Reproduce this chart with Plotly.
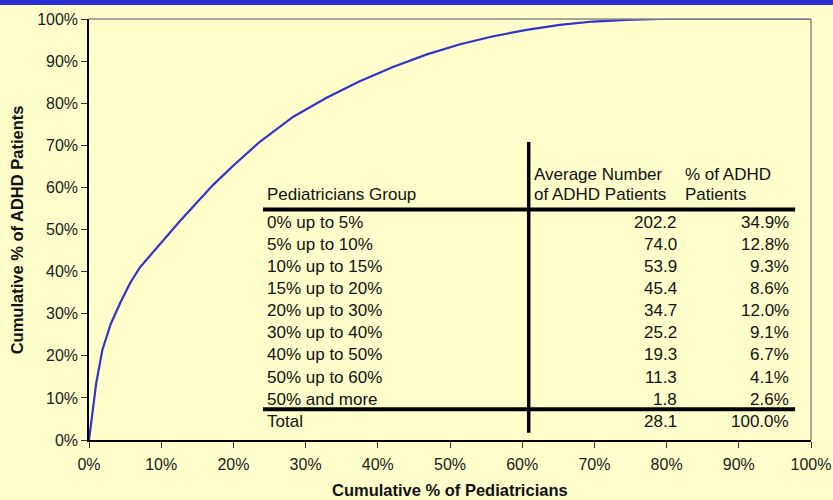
import plotly.graph_objects as go

# Lorenz-style curve (cumulative % of pediatricians vs. cumulative % of patients)
cum_pediatricians = [0, 0.5, 1.0, 1.85, 3.0, 4.3, 5.7, 7.1, 10.3, 12.6, 17.2, 20.0, 23.7,
                     28.3, 32.9, 37.5, 42.1, 46.8, 51.4, 56.0, 60.6, 65.2, 69.8, 74.5,
                     79.0, 85.0, 100.0]
cum_patients = [0, 7.5, 13.5, 21.4, 27.5, 32.5, 37.3, 41.1, 47.6, 52.0, 60.6, 65.2, 70.9,
                76.8, 81.3, 85.2, 88.6, 91.6, 94.0, 95.9, 97.4, 98.6, 99.4, 99.8,
                100.0, 100.0, 100.0]

groups = ["0% up to 5%", "5% up to 10%", "10% up to 15%", "15% up to 20%",
          "20% up to 30%", "30% up to 40%", "40% up to 50%", "50% up to 60%",
          "50% and more"]
avg_patients = ["202.2", "74.0", "53.9", "45.4", "34.7", "25.2", "19.3", "11.3", "1.8"]
pct_patients = ["34.9%", "12.8%", "9.3%", "8.6%", "12.0%", "9.1%", "6.7%", "4.1%", "2.6%"]
total_label = "Total"
total_avg = "28.1"
total_pct = "100.0%"

header_group = "Pediatricians Group"
header_avg = ["Average Number", "of ADHD Patients"]
header_pct = ["% of ADHD", "Patients"]

BG = "#FFFFCC"
CURVE = "#3333CC"
FONT = "Arial, Liberation Sans, sans-serif"

fig = go.Figure()
fig.add_trace(go.Scatter(
    x=cum_pediatricians, y=cum_patients, mode="lines",
    line=dict(color=CURVE, width=2.2),
    showlegend=False, hoverinfo="skip",
))

# table drawn inside the plot, in data coordinates
col_group_x = 24.6
col_avg_left = 61.6
col_avg_right = 81.4
col_pct_left = 82.5
col_pct_right = 97.0
row_top = 51.7
row_step = 5.25
text_font = dict(family=FONT, size=17, color="#111111")

def add_text(x, y, text, anchor):
    fig.add_annotation(x=x, y=y, xref="x", yref="y", text=text, showarrow=False,
                       xanchor=anchor, yanchor="middle", font=text_font,
                       xshift=-2 if anchor == "left" else 2)

add_text(col_group_x, 58.2, header_group, "left")
add_text(col_avg_left, 63.1, header_avg[0], "left")
add_text(col_avg_left, 58.2, header_avg[1], "left")
add_text(col_pct_left, 63.1, header_pct[0], "left")
add_text(col_pct_left, 58.2, header_pct[1], "left")

for i, (g, a, p) in enumerate(zip(groups, avg_patients, pct_patients)):
    y = row_top - i * row_step
    add_text(col_group_x, y, g, "left")
    add_text(col_avg_right, y, a, "right")
    add_text(col_pct_right, y, p, "right")

add_text(col_group_x, 4.4, total_label, "left")
add_text(col_avg_right, 4.4, total_avg, "right")
add_text(col_pct_right, 4.4, total_pct, "right")

for y in (54.75, 7.3):
    fig.add_shape(type="line", xref="x", yref="y", x0=24.1, x1=97.8, y0=y, y1=y,
                  line=dict(color="#000000", width=4))
fig.add_shape(type="line", xref="x", yref="y", x0=60.9, x1=60.9, y0=70.8, y1=1.7,
              line=dict(color="#000000", width=3.5))

# gray top / right frame of the plot area
fig.add_shape(type="line", xref="paper", yref="paper", x0=0, x1=1, y0=1, y1=1,
              line=dict(color="#888888", width=1.5))
fig.add_shape(type="line", xref="paper", yref="paper", x0=1, x1=1, y0=0, y1=1,
              line=dict(color="#888888", width=1.5))
# blue band along the top of the picture
fig.add_shape(type="rect", xref="paper", yref="paper", x0=-0.2, x1=1.1,
              y0=1.033, y1=1.06, line=dict(width=0), fillcolor="#2B2FD6")

# axis titles as annotations for exact placement
title_font = dict(family=FONT, size=16.5, color="#111111")
fig.add_annotation(x=0.5, y=-0.119, xref="paper", yref="paper",
                   text="<b>Cumulative % of Pediatricians</b>", showarrow=False,
                   xanchor="center", yanchor="middle", font=title_font)
fig.add_annotation(x=-0.1, y=0.5, xref="paper", yref="paper",
                   text="<b>Cumulative % of ADHD Patients</b>", showarrow=False,
                   textangle=-90, xanchor="center", yanchor="middle", font=title_font)

axis_common = dict(
    range=[0, 100], dtick=10, ticksuffix="%", showgrid=False, zeroline=False,
    showline=True, linecolor="#000000", linewidth=1.5,
    ticks="outside", ticklen=6, tickcolor="#333333", automargin=False,
    tickfont=dict(family=FONT, size=16, color="#1a1a1a"),
)

fig.update_layout(
    width=833, height=500,
    margin=dict(l=89, r=22, t=19, b=60),
    paper_bgcolor=BG, plot_bgcolor=BG,
    font=dict(family=FONT, color="#000000"),
    xaxis=dict(axis_common, ticklabelstandoff=3),
    yaxis=axis_common,
)

# drop the browser's default body margin so the figure sits at the page corner
fig.write_html("out.html", config={"displayModeBar": False},
               post_script="document.body.style.margin = '0';")
